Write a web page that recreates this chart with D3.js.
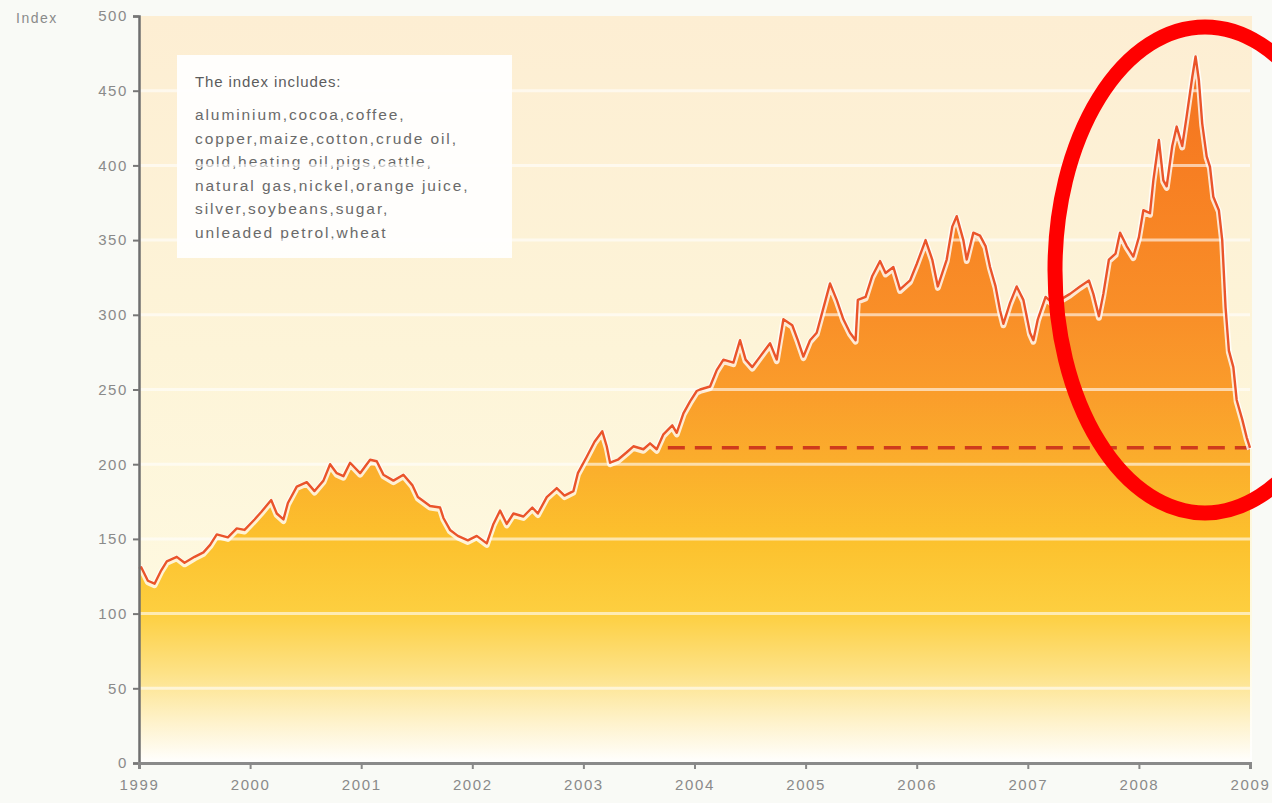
<!DOCTYPE html>
<html><head><meta charset="utf-8">
<script src="https://cdn.jsdelivr.net/npm/d3@7"></script>
<style>
html,body{margin:0;padding:0;background:#f9faf6;}
svg{display:block;font-family:"Liberation Sans",Arial,sans-serif;}
</style>
</head><body>
<svg id="chart" width="1272" height="803"></svg>
<script>
// ---- data ----
const dates = [
 1999.00,1999.02,1999.08,1999.14,1999.20,1999.25,1999.34,1999.41,1999.50,1999.58,1999.64,1999.70,1999.80,1999.88,1999.95,
 2000.04,2000.10,2000.19,2000.24,2000.30,2000.34,2000.42,2000.51,2000.58,2000.66,2000.72,2000.78,2000.84,2000.90,2000.99,
 2001.08,2001.14,2001.20,2001.29,2001.38,2001.46,2001.51,2001.62,2001.71,2001.74,2001.80,2001.87,2001.96,
 2002.04,2002.13,2002.19,2002.25,2002.31,2002.37,2002.46,2002.54,2002.59,2002.67,2002.76,2002.83,2002.91,2002.95,
 2003.03,2003.10,2003.17,2003.21,2003.24,2003.31,2003.39,2003.45,2003.54,2003.60,2003.66,2003.72,2003.80,2003.84,2003.90,2003.96,
 2004.02,2004.05,2004.14,2004.20,2004.26,2004.35,2004.41,2004.46,2004.52,2004.59,2004.68,2004.74,2004.80,2004.88,2004.93,2004.98,
 2005.04,2005.10,2005.18,2005.22,2005.28,2005.34,2005.40,2005.45,2005.47,2005.54,2005.60,2005.67,2005.72,2005.79,2005.85,2005.94,
 2006.00,2006.08,2006.14,2006.19,2006.27,2006.32,2006.36,2006.42,2006.45,2006.51,2006.57,2006.62,2006.66,2006.71,2006.75,2006.78,2006.84,2006.90,2006.96,
 2007.02,2007.05,2007.09,2007.16,2007.22,2007.29,2007.38,2007.47,2007.55,2007.59,2007.64,2007.68,2007.73,2007.79,2007.83,2007.89,2007.95,
 2008.00,2008.04,2008.10,2008.13,2008.18,2008.22,2008.25,2008.30,2008.34,2008.39,2008.43,2008.48,2008.51,2008.54,2008.57,2008.61,2008.64,2008.67,2008.72,2008.75,2008.78,2008.81,2008.85,2008.88,2008.93,2008.97,2009.00
];
const values = [
 130,131,122,120,129,135,138,134,138,141,146,153,151,157,156,
 163,168,176,167,163,174,185,188,182,189,200,194,192,201,194,
 203,202,193,189,193,186,178,172,171,164,156,152,149,
 152,147,160,169,160,167,165,171,167,178,184,179,182,194,
 205,215,222,212,201,203,208,212,210,214,210,220,226,221,234,242,
 249,250,252,263,270,268,283,270,265,272,281,270,297,293,283,272,
 283,288,310,321,310,297,288,283,310,312,326,336,328,332,317,323,
 334,350,337,319,337,359,366,350,337,355,353,346,332,319,303,294,308,319,310,
 288,283,297,312,308,310,314,319,323,314,299,314,337,341,355,346,339,
 352,370,368,390,417,390,386,413,426,413,433,459,473,457,428,406,399,379,370,350,305,276,265,243,230,218,211
];
const refValue = 211;          // dashed reference level
const refStart = 2003.76;      // where the dashed line begins
const refEnd = 2009.00;
const yTicks = [0,50,100,150,200,250,300,350,400,450,500];
const gridValues = [50,100,150,200,250,300,350,400,450];
const xTicks = [1999,2000,2001,2002,2003,2004,2005,2006,2007,2008,2009];
const yAxisTitle = "Index";
const legendTitle = "The index includes:";
const legendLines = [
 "aluminium,cocoa,coffee,",
 "copper,maize,cotton,crude oil,",
 "gold,heating oil,pigs,cattle,",
 "natural gas,nickel,orange juice,",
 "silver,soybeans,sugar,",
 "unleaded petrol,wheat"
];

// ---- drawing ----
const svg = d3.select("#chart");
const x = d3.scaleLinear().domain([1999, 2009]).range([139, 1250]);
const y = d3.scaleLinear().domain([0, 500]).range([763, 16]);
const data = dates.map((d, i) => ({t: d, v: values[i]}));

svg.append("rect").attr("width", 1272).attr("height", 803).attr("fill", "#f9faf6");

const defs = svg.append("defs");
const bg = defs.append("linearGradient").attr("id", "bgGrad")
  .attr("gradientUnits", "userSpaceOnUse")
  .attr("x1", 0).attr("y1", y(500)).attr("x2", 0).attr("y2", y(0));
[[0, "#fdeed3"], [0.45, "#fdf4d8"], [0.8, "#fef9e0"], [1, "#ffffff"]]
  .forEach(([o, c]) => bg.append("stop").attr("offset", o).attr("stop-color", c));

const ag = defs.append("linearGradient").attr("id", "areaGrad")
  .attr("gradientUnits", "userSpaceOnUse")
  .attr("x1", 0).attr("y1", y(480)).attr("x2", 0).attr("y2", y(0));
[[480, "#f37020"], [400, "#f77e22"], [300, "#f98f28"], [250, "#fa9c2b"], [200, "#fbae2c"],
 [150, "#fcc12d"], [100, "#fdcf40"], [60, "#fde287"], [30, "#fef1c6"], [0, "#ffffff"]]
  .forEach(([v, c]) => ag.append("stop").attr("offset", 1 - v / 480).attr("stop-color", c));

// plot background
svg.append("rect")
  .attr("x", x(1999)).attr("y", y(500))
  .attr("width", x(2009) - x(1999) + 2).attr("height", y(0) - y(500))
  .attr("fill", "url(#bgGrad)");

// legend box (behind data)
const lg = svg.append("g");
lg.append("rect").attr("x", 177).attr("y", 55).attr("width", 335).attr("height", 203)
  .attr("fill", "#ffffff").attr("opacity", 0.93);
lg.append("text").attr("x", 195).attr("y", 87).text(legendTitle)
  .attr("font-size", 15).attr("fill", "#5c5c5c").attr("letter-spacing", 0.9);
lg.selectAll("text.l").data(legendLines).join("text").attr("class", "l")
  .attr("x", 195).attr("y", (d, i) => 120 + i * 23.5)
  .attr("font-size", 15.5).attr("fill", "#6a6a6a").attr("letter-spacing", 1.9)
  .text(d => d);

// area
const area = d3.area().x(d => x(d.t)).y0(y(0)).y1(d => y(d.v));
svg.append("path").datum(data).attr("d", area).attr("fill", "url(#areaGrad)");

// gridlines
svg.selectAll("line.grid").data(gridValues).join("line").attr("class", "grid")
  .attr("x1", x(1999)).attr("x2", x(2009))
  .attr("y1", d => y(d)).attr("y2", d => y(d))
  .attr("stroke", "#ffffff").attr("stroke-width", 3).attr("opacity", 0.6);

// dashed reference
svg.append("line")
  .attr("x1", x(refStart)).attr("x2", x(refEnd))
  .attr("y1", y(refValue)).attr("y2", y(refValue))
  .attr("stroke", "#cf3a1c").attr("stroke-width", 3.5)
  .attr("stroke-dasharray", "17 10");

// line with light halo
const line = d3.line().x(d => x(d.t)).y(d => y(d.v));
svg.append("path").datum(data).attr("d", line)
  .attr("fill", "none").attr("stroke", "#ffffff").attr("stroke-width", 6)
  .attr("stroke-opacity", 0.8).attr("stroke-linejoin", "round")
  .attr("transform", "translate(0,1.5)");
svg.append("path").datum(data).attr("d", line)
  .attr("fill", "none").attr("stroke", "#ea542a").attr("stroke-width", 2.4)
  .attr("stroke-linejoin", "round");

// axes
const yAxis = d3.axisLeft(y).tickValues(yTicks).tickSize(6).tickPadding(5);
const gy = svg.append("g").attr("transform", `translate(${x(1999)},0)`).call(yAxis);
gy.select(".domain").attr("stroke", "#6f6f6f").attr("stroke-width", 2.5);
gy.selectAll(".tick line").attr("stroke", "#777").attr("stroke-width", 2);
gy.selectAll(".tick text").attr("font-size", 15).attr("fill", "#8a8a8a")
  .attr("letter-spacing", 1.6).attr("font-family", "Liberation Sans, Arial, sans-serif");

const xAxis = d3.axisBottom(x).tickValues(xTicks).tickFormat(d3.format("d")).tickSize(6).tickPadding(10);
const gx = svg.append("g").attr("transform", `translate(0,${y(0)})`).call(xAxis);
gx.select(".domain").attr("stroke", "#8a8a8a").attr("stroke-width", 3);
gx.selectAll(".tick line").attr("stroke", "#888").attr("stroke-width", 2);
gx.selectAll(".tick text").attr("font-size", 15).attr("fill", "#8a8a8a")
  .attr("letter-spacing", 1.6).attr("font-family", "Liberation Sans, Arial, sans-serif");

svg.append("text").attr("x", 16).attr("y", 23).text(yAxisTitle)
  .attr("font-size", 14).attr("fill", "#8a8a8a").attr("letter-spacing", 1.5);

// red annotation ellipse
svg.append("ellipse")
  .attr("cx", x(2009) - 45).attr("cy", y(330))
  .attr("rx", 150).attr("ry", 243)
  .attr("fill", "none").attr("stroke", "#ff0000").attr("stroke-width", 15);
</script>
</body></html>
